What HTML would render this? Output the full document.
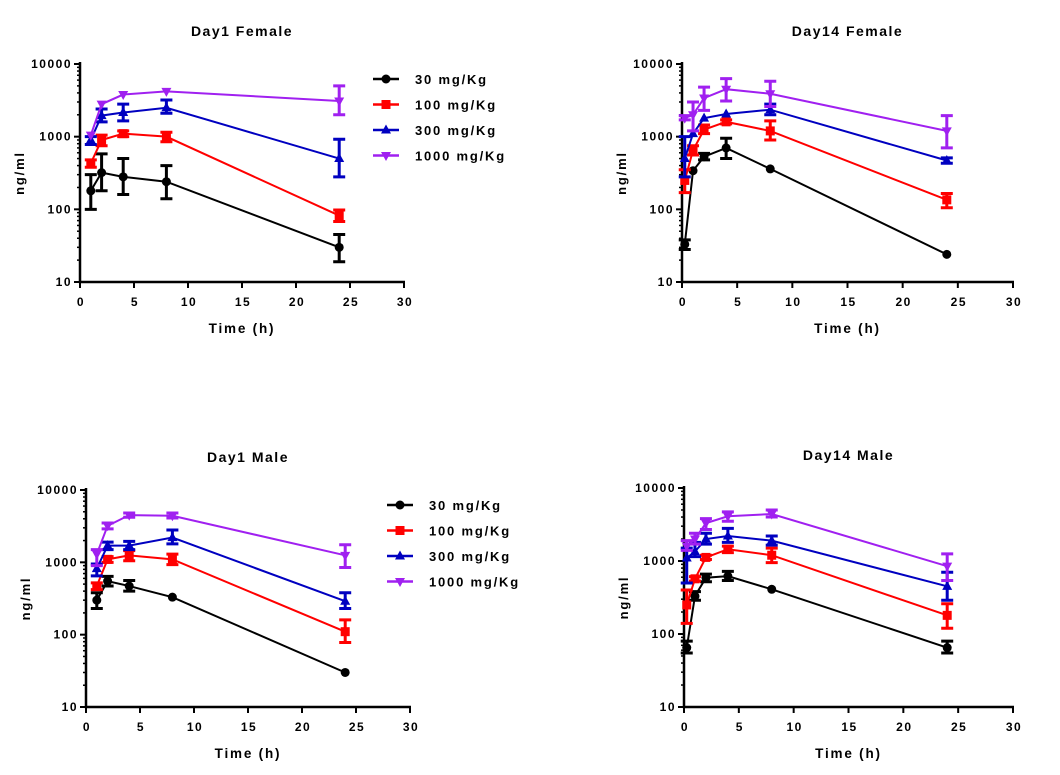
<!DOCTYPE html>
<html><head><meta charset="utf-8"><style>
html,body{margin:0;padding:0;background:#fff;}
svg{display:block;font-family:"Liberation Sans",sans-serif;font-weight:bold;}
</style></head><body>
<svg id="s" width="1060" height="775" viewBox="0 0 1060 775" xmlns="http://www.w3.org/2000/svg"></svg>
<script>
const S=document.getElementById('s');let h='';
const cols=['#000000','#ff0000','#0000c0','#a020f0'];
function panel(p){
 const X=t=>p.x0+(t/30)*(p.x1-p.x0);
 const Y=v=>p.yb-(Math.log10(v)-1)/3*(p.yb-p.yt);
 h+=`<text x="${(p.x0+p.x1)/2}" y="${p.yt-28}" text-anchor="middle" font-size="14" letter-spacing="1.5">${p.title}</text>`;
 const ym=(p.yt+p.yb)/2;
 h+=`<text transform="translate(${p.x0-56},${ym}) rotate(-90)" text-anchor="middle" font-size="13" letter-spacing="1.8">ng/ml</text>`;
 h+=`<path d="M${p.x0} ${p.yt-2}V${p.yb}H${p.x1+1}" fill="none" stroke="#000" stroke-width="2.5"/>`;
 for(let d=1;d<=4;d++){const v=Math.pow(10,d);const y=Y(v);
  h+=`<line x1="${p.x0-6}" x2="${p.x0}" y1="${y}" y2="${y}" stroke="#000" stroke-width="2"/>`;
  h+=`<text x="${p.x0-8}" y="${y+4}" text-anchor="end" font-size="12" letter-spacing="1.5">${v}</text>`;
  if(d<4)for(let m=2;m<=9;m++){const yy=Y(m*v);h+=`<line x1="${p.x0-3}" x2="${p.x0}" y1="${yy}" y2="${yy}" stroke="#000" stroke-width="1.5"/>`;}
 }
 for(let t=0;t<=30;t+=5){const x=X(t);
  h+=`<line x1="${x}" x2="${x}" y1="${p.yb}" y2="${p.yb+6}" stroke="#000" stroke-width="2"/>`;
  h+=`<text x="${x+1}" y="${p.yb+24}" text-anchor="middle" font-size="12" letter-spacing="1.5">${t}</text>`;}
 h+=`<text x="${X(15)}" y="${p.yb+51}" text-anchor="middle" font-size="13.5" letter-spacing="1.8">Time (h)</text>`;
 p.data.forEach((ser,i)=>{const c=cols[i];
  const pts=ser.map(d=>[X(d[0]),Y(d[1])]);
  h+=`<polyline points="${pts.map(q=>q.join(',')).join(' ')}" fill="none" stroke="${c}" stroke-width="2"/>`;
  ser.forEach((d,j)=>{const [x,y]=pts[j];
   if(d[2]){const y1=Y(d[2]),y2=Y(d[3]);
    h+=`<path d="M${x} ${y1}V${y2}M${x-6} ${y1}H${x+6}M${x-6} ${y2}H${x+6}" stroke="${c}" stroke-width="3"/>`;}
   h+=marker(i,x,y,c);});
 });
 if(p.leg){const [lx,ly]=p.leg;const labs=['30 mg/Kg','100 mg/Kg','300 mg/Kg','1000 mg/Kg'];
  labs.forEach((l,i)=>{const y=ly+i*25.5;
   h+=`<line x1="${lx}" x2="${lx+26}" y1="${y}" y2="${y}" stroke="${cols[i]}" stroke-width="2.5"/>`+marker(i,lx+13,y,cols[i]);
   h+=`<text x="${lx+42}" y="${y+5}" font-size="13" letter-spacing="1.8">${l}</text>`;});}
}
function marker(i,x,y,c){
 if(i==0)return `<circle cx="${x}" cy="${y}" r="4.5" fill="${c}"/>`;
 if(i==1)return `<rect x="${x-4.5}" y="${y-4.5}" width="9" height="9" fill="${c}"/>`;
 if(i==2)return `<path d="M${x} ${y-5.5}L${x+5} ${y+3.5}H${x-5}Z" fill="${c}"/>`;
 return `<path d="M${x} ${y+5.5}L${x+5} ${y-3.5}H${x-5}Z" fill="${c}"/>`;
}
panel({title:'Day1 Female',x0:80,x1:404,yt:64,yb:282,leg:[373,79],data:[
 [[1,180,100,300],[2,320,180,580],[4,280,160,500],[8,240,140,400],[24,30,19,45]],
 [[1,430,380,480],[2,900,750,1050],[4,1100,1000,1200],[8,1000,850,1150],[24,82,68,98]],
 [[1,900,780,1000],[2,1950,1600,2400],[4,2150,1650,2800],[8,2500,2100,3200],[24,500,280,920]],
 [[1,1050],[2,2800],[4,3800],[8,4200],[24,3100,2000,5000]]]});
panel({title:'Day14 Female',x0:682,x1:1013,yt:64,yb:282,data:[
 [[0.25,33,28,38],[1,340],[2,530,480,590],[4,700,500,950],[8,360],[24,24]],
 [[0.25,250,170,350],[1,650,560,750],[2,1250,1100,1450],[4,1600,1500,1700],[8,1200,900,1650],[24,135,105,165]],
 [[0.25,500,280,1000],[1,1100],[2,1800],[4,2050],[8,2350,2000,2800],[24,470,430,510]],
 [[0.25,1800,1700,1950],[1,2000,1200,3000],[2,3400,2300,4800],[4,4500,3100,6300],[8,3900,2600,5800],[24,1200,700,1950]]]});
panel({title:'Day1 Male',x0:86,x1:410,yt:490,yb:707,leg:[387,505],data:[
 [[1,300,230,380],[2,550,470,640],[4,470,400,560],[8,330],[24,30]],
 [[1,470,420,520],[2,1100,1000,1200],[4,1250,1050,1450],[8,1100,930,1300],[24,110,78,160]],
 [[1,820,650,950],[2,1700,1500,1900],[4,1700,1500,1950],[8,2200,1800,2800],[24,290,230,380]],
 [[1,1300,900,1500],[2,3200,2900,3500],[4,4500,4200,4800],[8,4400,4100,4800],[24,1250,850,1750]]]});
panel({title:'Day14 Male',x0:684,x1:1013,yt:488,yb:707,data:[
 [[0.25,65,55,80],[1,330,290,380],[2,590,520,660],[4,620,540,720],[8,410],[24,65,55,80]],
 [[0.25,250,140,400],[1,570,530,610],[2,1120,1050,1200],[4,1450,1300,1600],[8,1200,950,1500],[24,180,120,260]],
 [[0.25,1100,500,1500],[1,1350,1150,1800],[2,2000,1700,2400],[4,2200,1800,2800],[8,1900,1650,2200],[24,450,290,700]],
 [[0.25,1600,1400,1900],[1,2000,1700,2400],[2,3300,2700,3800],[4,4100,3500,4700],[8,4400,4000,5000],[24,850,540,1250]]]});
S.innerHTML=h;
</script>
</body></html>
